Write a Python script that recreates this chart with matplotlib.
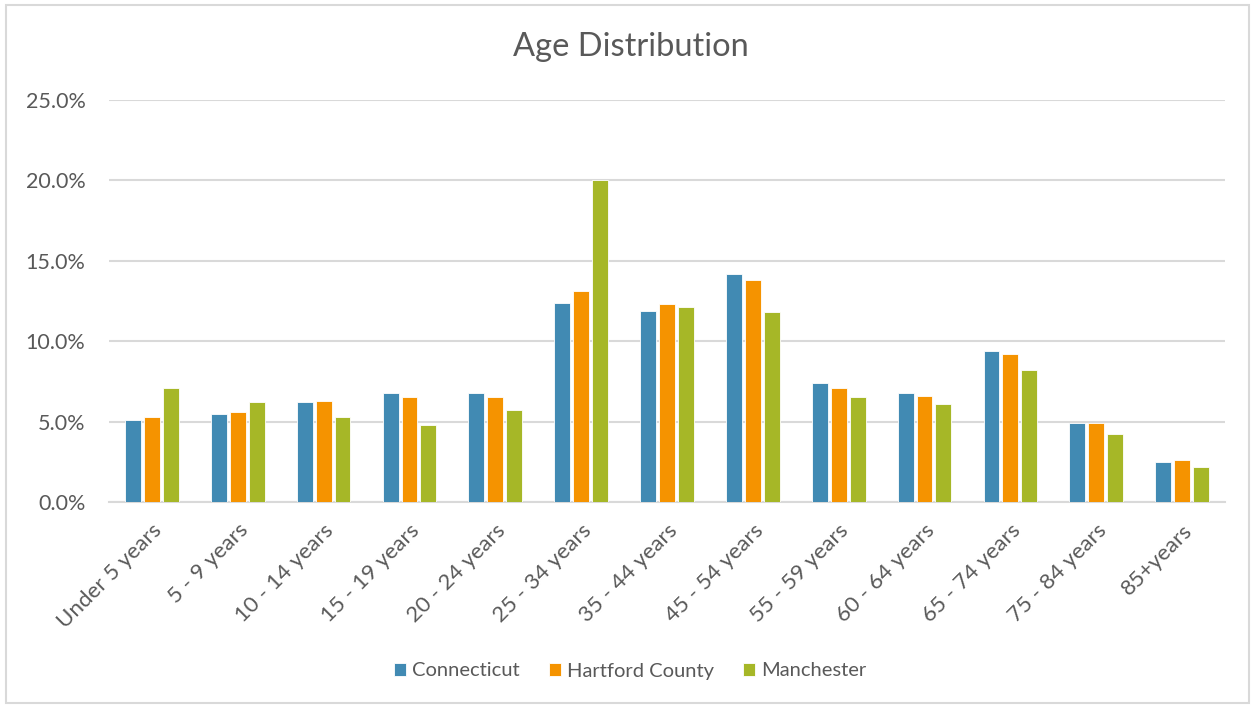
import numpy as np
import matplotlib.pyplot as plt
from matplotlib.patches import Rectangle

# age groups and shares (percent)
age_groups = ['Under 5 years', '5 - 9 years', '10 - 14 years', '15 - 19 years',
              '20 - 24 years', '25 - 34 years', '35 - 44 years', '45 - 54 years',
              '55 - 59 years', '60 - 64 years', '65 - 74 years', '75 - 84 years',
              '85+years']
connecticut = [5.1, 5.5, 6.2, 6.8, 6.8, 12.4, 11.9, 14.2, 7.4, 6.8, 9.4, 4.9, 2.5]
hartford = [5.3, 5.6, 6.3, 6.5, 6.5, 13.1, 12.3, 13.8, 7.1, 6.6, 9.2, 4.9, 2.6]
manchester = [7.1, 6.2, 5.3, 4.8, 5.7, 20.0, 12.1, 11.8, 6.5, 6.1, 8.2, 4.2, 2.2]
series_names = ['Connecticut', 'Hartford County', 'Manchester']
yticks = [0, 5, 10, 15, 20, 25]

colors = ['#418ab3', '#f59300', '#a6b727']
txt = '#595959'
grid = '#d9d9d9'

plt.rcParams['font.family'] = ['Lato', 'DejaVu Sans']

fig = plt.figure(figsize=(12.53, 7.05), dpi=100)
ax = fig.add_axes([109/1253, 1 - 502/705, (1225-109)/1253, (502-100)/705])

x = np.arange(len(age_groups))
step = 0.22
width = 0.185
for k, (vals, name) in enumerate(zip([connecticut, hartford, manchester], series_names)):
    ax.bar(x + (k - 1) * step, vals, width, color=colors[k], label=name,
           edgecolor='white', linewidth=0.6, zorder=3)

ax.set_xlim(-0.5, len(age_groups) - 0.5)
ax.set_ylim(0, 25)
ax.set_yticks(yticks)
ax.set_yticklabels(['%.1f%%' % v for v in yticks], fontsize=15.5, color=txt)
ax.set_xticks(x)
ax.set_xticklabels(age_groups, rotation=45, ha='right', rotation_mode='anchor',
                   fontsize=16, color=txt)
ax.tick_params(axis='both', length=0)
ax.tick_params(axis='y', pad=17)
ax.tick_params(axis='x', pad=13)
ax.yaxis.grid(True, color=grid, linewidth=1.5, zorder=0)
for s in ['top', 'right', 'left']:
    ax.spines[s].set_visible(False)
ax.spines['bottom'].set_color(grid)
ax.spines['bottom'].set_linewidth(1.5)

fig.text(631/1253, 1 - 47/705, 'Age Distribution', ha='center', va='center',
         fontsize=23.5, color=txt)

leg = fig.legend(loc='center', bbox_to_anchor=(630/1253, 1 - 671/705), ncol=3,
                 frameon=False, fontsize=14.5, handlelength=0.6, handleheight=0.6,
                 handletextpad=0.3, columnspacing=1.45)
for t in leg.get_texts():
    t.set_color(txt)

fig.patches.append(Rectangle((6/1253, 2/705), 1243/1253, 698/705, transform=fig.transFigure,
                             fill=False, edgecolor=grid, linewidth=1.5))

fig.savefig('out.png', dpi=100)
